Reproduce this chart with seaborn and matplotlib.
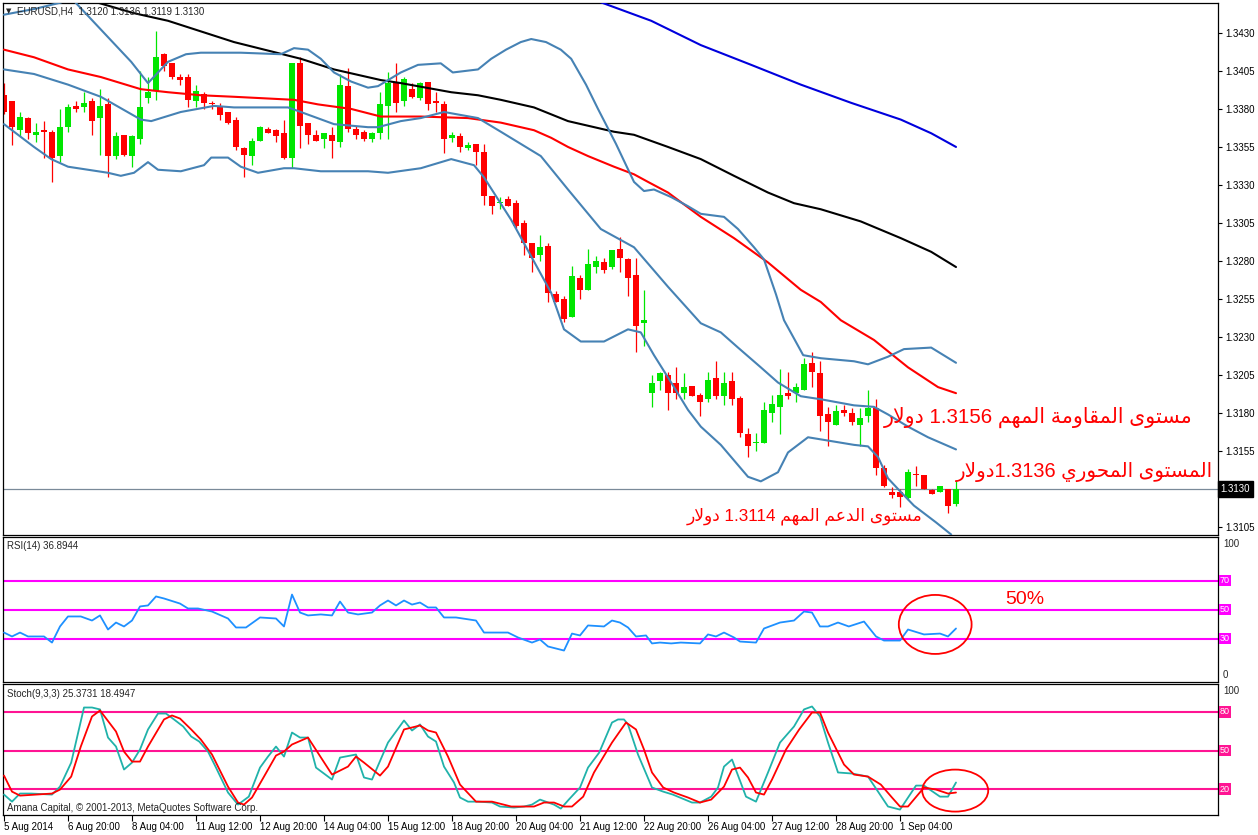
import re
import numpy as np
import pandas as pd
import matplotlib
matplotlib.use("Agg")
import matplotlib.pyplot as plt
from matplotlib.patches import Ellipse
from matplotlib.transforms import blended_transform_factory
import seaborn as sns

# ---------------- data ----------------
open_ = [1.3389, 1.3385, 1.3366, 1.3374, 1.3363, 1.3366, 1.3365, 1.3349, 1.3368, 1.3382,
         1.3381, 1.3385, 1.3374, 1.3383, 1.3349, 1.3363, 1.3349, 1.3360, 1.3387, 1.3392,
         1.3416, 1.3410, 1.3401, 1.3401, 1.3385, 1.3390, 1.3384, 1.3382, 1.3378, 1.3373,
         1.3354, 1.3349, 1.3359, 1.3367, 1.3366, 1.3364, 1.3348, 1.3410, 1.3371, 1.3363,
         1.3360, 1.3363, 1.3358, 1.3395, 1.3367, 1.3365, 1.3360, 1.3364, 1.3382, 1.3397,
         1.3385, 1.3393, 1.3387, 1.3398, 1.3385, 1.3383, 1.3361, 1.3362, 1.3354, 1.3357,
         1.3352, 1.3323, 1.3318, 1.3321, 1.3318, 1.3305, 1.3292, 1.3284, 1.3290, 1.3258,
         1.3255, 1.3243, 1.3269, 1.3261, 1.3276, 1.3279, 1.3276, 1.3288, 1.3281, 1.3271,
         1.3239, 1.3193, 1.3201, 1.3205, 1.3200, 1.3193, 1.3198, 1.3192, 1.3189, 1.3203,
         1.3191, 1.3201, 1.3190, 1.3166, 1.3160, 1.3160, 1.3180, 1.3184, 1.3193, 1.3193,
         1.3195, 1.3213, 1.3206, 1.3179, 1.3172, 1.3182, 1.3180, 1.3172, 1.3178, 1.3183,
         1.3144, 1.3128, 1.3128, 1.3124, 1.3140, 1.3139, 1.3129, 1.3128, 1.3130, 1.3120]
high = [1.3397, 1.3385, 1.3378, 1.3375, 1.3371, 1.3372, 1.3366, 1.3380, 1.3383, 1.3385,
        1.3391, 1.3387, 1.3393, 1.3387, 1.3365, 1.3363, 1.3363, 1.3405, 1.3401, 1.3431,
        1.3417, 1.3410, 1.3403, 1.3403, 1.3396, 1.3391, 1.3385, 1.3384, 1.3378, 1.3375,
        1.3355, 1.3361, 1.3369, 1.3368, 1.3367, 1.3373, 1.3410, 1.3414, 1.3371, 1.3366,
        1.3364, 1.3368, 1.3403, 1.3407, 1.3369, 1.3366, 1.3365, 1.3391, 1.3404, 1.3410,
        1.3401, 1.3397, 1.3398, 1.3398, 1.3391, 1.3385, 1.3365, 1.3364, 1.3358, 1.3357,
        1.3357, 1.3323, 1.3322, 1.3323, 1.3320, 1.3307, 1.3292, 1.3297, 1.3292, 1.3260,
        1.3257, 1.3277, 1.3271, 1.3288, 1.3283, 1.3282, 1.3287, 1.3296, 1.3282, 1.3282,
        1.3261, 1.3205, 1.3207, 1.3207, 1.3210, 1.3206, 1.3198, 1.3193, 1.3207, 1.3214,
        1.3207, 1.3207, 1.3191, 1.3170, 1.3167, 1.3187, 1.3192, 1.3209, 1.3207, 1.3200,
        1.3216, 1.3220, 1.3214, 1.3184, 1.3185, 1.3185, 1.3183, 1.3183, 1.3195, 1.3189,
        1.3146, 1.3131, 1.3130, 1.3143, 1.3145, 1.3139, 1.3130, 1.3132, 1.3130, 1.3136]
low = [1.3377, 1.3356, 1.3362, 1.3360, 1.3358, 1.3348, 1.3332, 1.3345, 1.3365, 1.3378,
       1.3378, 1.3363, 1.3350, 1.3335, 1.3347, 1.3349, 1.3342, 1.3357, 1.3384, 1.3386,
       1.3405, 1.3400, 1.3396, 1.3381, 1.3381, 1.3380, 1.3380, 1.3373, 1.3370, 1.3353,
       1.3335, 1.3343, 1.3359, 1.3364, 1.3358, 1.3347, 1.3341, 1.3354, 1.3357, 1.3359,
       1.3354, 1.3348, 1.3355, 1.3365, 1.3360, 1.3359, 1.3358, 1.3360, 1.3360, 1.3378,
       1.3382, 1.3387, 1.3386, 1.3379, 1.3378, 1.3351, 1.3358, 1.3352, 1.3353, 1.3343,
       1.3317, 1.3311, 1.3314, 1.3316, 1.3302, 1.3284, 1.3273, 1.3280, 1.3253, 1.3253,
       1.3240, 1.3243, 1.3255, 1.3261, 1.3272, 1.3272, 1.3275, 1.3273, 1.3257, 1.3220,
       1.3224, 1.3184, 1.3195, 1.3182, 1.3189, 1.3189, 1.3191, 1.3178, 1.3187, 1.3189,
       1.3185, 1.3185, 1.3164, 1.3151, 1.3155, 1.3160, 1.3174, 1.3166, 1.3189, 1.3187,
       1.3195, 1.3197, 1.3168, 1.3158, 1.3172, 1.3178, 1.3172, 1.3158, 1.3174, 1.3139,
       1.3131, 1.3124, 1.3118, 1.3123, 1.3132, 1.3130, 1.3127, 1.3128, 1.3114, 1.3119]
close = [1.3378, 1.3368, 1.3375, 1.3364, 1.3365, 1.3365, 1.3348, 1.3368, 1.3381, 1.3380,
         1.3384, 1.3372, 1.3382, 1.3349, 1.3362, 1.3350, 1.3362, 1.3381, 1.3391, 1.3414,
         1.3408, 1.3401, 1.3399, 1.3386, 1.3392, 1.3384, 1.3383, 1.3376, 1.3371, 1.3355,
         1.3350, 1.3359, 1.3368, 1.3364, 1.3362, 1.3348, 1.3410, 1.3369, 1.3363, 1.3359,
         1.3364, 1.3359, 1.3396, 1.3367, 1.3363, 1.3360, 1.3364, 1.3383, 1.3397, 1.3384,
         1.3400, 1.3388, 1.3397, 1.3383, 1.3384, 1.3360, 1.3363, 1.3355, 1.3356, 1.3352,
         1.3323, 1.3316, 1.3319, 1.3316, 1.3303, 1.3292, 1.3282, 1.3289, 1.3259, 1.3253,
         1.3242, 1.3270, 1.3261, 1.3278, 1.3280, 1.3274, 1.3287, 1.3282, 1.3269, 1.3237,
         1.3241, 1.3200, 1.3206, 1.3193, 1.3193, 1.3197, 1.3191, 1.3187, 1.3202, 1.3191,
         1.3200, 1.3189, 1.3167, 1.3158, 1.3161, 1.3182, 1.3186, 1.3192, 1.3191, 1.3197,
         1.3212, 1.3207, 1.3178, 1.3174, 1.3181, 1.3180, 1.3174, 1.3177, 1.3183, 1.3144,
         1.3132, 1.3126, 1.3125, 1.3141, 1.3139, 1.3130, 1.3127, 1.3132, 1.3119, 1.3130]

bb_up_x = [0, 4, 7.1, 8.4, 10.9, 13.4, 15.9, 18, 20.5, 22.75, 24.6, 29.6, 34.6, 36.25, 38, 39.6,
           41.25, 43.4, 45.5, 46.75, 49.6, 51.75, 54.6, 56.1, 59.25, 60.9, 62.75, 64.6, 65.9,
           67.75, 69.6, 70.9, 72.75, 74.25, 76.5, 78.75, 80, 81.25, 83.4, 85.5, 87.1, 90, 91.75,
           93.75, 95, 96.5, 97.5, 99.9, 102.1, 106.25, 108, 110.5, 112.5, 115.9, 119]
bb_up_y = [1.3442, 1.3446, 1.3450, 1.3453, 1.3439, 1.3425, 1.3411, 1.3397, 1.3411, 1.3416,
           1.3417, 1.3417, 1.3416, 1.3420, 1.3419, 1.3413, 1.3404, 1.3398, 1.3394, 1.3395,
           1.3404, 1.3409, 1.3410, 1.3404, 1.3406, 1.3413, 1.3419, 1.3424, 1.3426, 1.3424,
           1.3419, 1.3413, 1.3396, 1.3380, 1.3357, 1.3332, 1.3326, 1.3327, 1.3322, 1.3316,
           1.3311, 1.3309, 1.3301, 1.3289, 1.3281, 1.3258, 1.3241, 1.3218, 1.3216, 1.3214,
           1.3212, 1.3217, 1.3222, 1.3223, 1.3213]
bb_mid_x = [0, 3.75, 8, 12.1, 17.1, 18.4, 22.1, 26.25, 28.75, 35.5, 37.1, 41.25, 45.5, 46.75,
            49.6, 52.1, 55, 59.25, 62.1, 67.1, 70.5, 74.6, 78.75, 83, 87.1, 89.6, 91.75, 94.6,
            96.75, 99.6, 102.1, 106.25, 108.75, 110.5, 113, 115.5, 119]
bb_mid_y = [1.3406, 1.3403, 1.3396, 1.3388, 1.3373, 1.3372, 1.3378, 1.3382, 1.3381, 1.3381,
            1.3378, 1.3370, 1.3368, 1.3368, 1.3372, 1.3374, 1.3378, 1.3374, 1.3365, 1.3349,
            1.3327, 1.3301, 1.3289, 1.3263, 1.3239, 1.3233, 1.3223, 1.3210, 1.3200, 1.3191,
            1.3189, 1.3185, 1.3184, 1.3179, 1.3171, 1.3164, 1.3156]
bb_low_x = [0, 3.75, 5.9, 8, 13, 14.6, 16.25, 18, 19.25, 22.1, 25, 25.9, 28, 29.6, 31.75, 35,
            36.25, 39.6, 45.5, 48, 52.1, 55.9, 58.75, 60, 63.4, 68.4, 70, 72.1, 75, 78, 79.6,
            81.25, 83.4, 85.5, 87.1, 89.6, 93, 94.6, 96.75, 98, 100.5, 106.25, 108, 109.25,
            110.5, 112.1, 113.75, 116.5, 118.4]
bb_low_y = [1.3370, 1.3355, 1.3347, 1.3342, 1.3338, 1.3336, 1.3338, 1.3345, 1.3340, 1.3339,
            1.3343, 1.3348, 1.3348, 1.3342, 1.3338, 1.3341, 1.3341, 1.3339, 1.3339, 1.3338,
            1.3341, 1.3347, 1.3343, 1.3335, 1.3307, 1.3259, 1.3235, 1.3227, 1.3227, 1.3235,
            1.3233, 1.3218, 1.3200, 1.3182, 1.3171, 1.3159, 1.3138, 1.3135, 1.3141, 1.3154,
            1.3164, 1.3159, 1.3158, 1.3151, 1.3137, 1.3128, 1.3119, 1.3108, 1.3100]
ma_red_x = [0, 3.75, 8, 12.1, 17.1, 20.5, 24.6, 28.75, 36.25, 39.25, 43.4, 47.1, 52.1, 58, 62.1,
            66.25, 68.4, 70.5, 73, 76.25, 78.75, 80.5, 83, 87.1, 91.25, 95.5, 99.6, 102.1, 104.6,
            108.75, 113, 116.75, 119]
ma_red_y = [1.3419, 1.3414, 1.3406, 1.3401, 1.3393, 1.3391, 1.3389, 1.3388, 1.3386, 1.3383,
            1.3380, 1.3375, 1.3375, 1.3374, 1.3371, 1.3366, 1.3361, 1.3355, 1.3349, 1.3342,
            1.3337, 1.3332, 1.3325, 1.3309, 1.3295, 1.3279, 1.3261, 1.3253, 1.3241, 1.3228,
            1.3210, 1.3197, 1.3193]
ma_black_x = [8.4, 16.25, 20.5, 28.75, 37.1, 41.25, 47.1, 49.6, 55.9, 59.25, 62.1, 66.25, 70.5,
              76.25, 78.75, 83, 87.1, 91.25, 95.5, 98.75, 102.1, 107.1, 112.1, 115.9, 119]
ma_black_y = [1.3455, 1.3443, 1.3438, 1.3424, 1.3413, 1.3406, 1.3399, 1.3397, 1.3391, 1.3389,
              1.3386, 1.3381, 1.3372, 1.3365, 1.3363, 1.3355, 1.3347, 1.3336, 1.3325, 1.3318,
              1.3314, 1.3306, 1.3295, 1.3286, 1.3276]
ma_blue_x = [72.1, 80.9, 87.1, 93.4, 99.6, 105.9, 112.1, 115.9, 119]
ma_blue_y = [1.3455, 1.3438, 1.3422, 1.3409, 1.3396, 1.3384, 1.3373, 1.3364, 1.3355]

rsi_x = [0, 1, 2, 3, 5, 6, 7, 8, 9.6, 11, 12, 13, 14, 15, 16, 17, 18, 19, 20, 22, 23, 24.25, 26,
         28, 29, 30.25, 32, 34, 35, 36, 37, 38, 39.6, 41, 42, 43, 44.25, 46, 47, 48, 49, 50, 51,
         52, 53, 54, 55, 56.5, 59, 60, 62, 63, 64.25, 66, 67, 68, 70, 71, 72, 73, 75, 76, 77,
         78, 79, 80.25, 81, 82, 83.4, 84.6, 87, 88, 89, 90, 91.25, 92, 94, 95, 97, 98.75, 100,
         101, 102, 103, 104.25, 105.6, 107.5, 109, 110, 112, 113, 115, 117, 118, 119]
rsi_y = [34.1, 31.4, 34.1, 31.4, 31.4, 27.2, 38.3, 45.2, 45.2, 42.4, 45.9, 36.2, 41.0, 38.3,
         42.4, 52.1, 52.8, 59.0, 57.6, 54.1, 50.7, 50.7, 48.6, 43.8, 37.6, 37.6, 44.5, 43.8,
         38.3, 60.3, 47.9, 45.9, 46.6, 45.9, 55.5, 47.9, 46.6, 47.9, 52.8, 56.2, 52.8, 56.2,
         53.4, 54.8, 51.4, 51.4, 44.5, 44.5, 42.4, 34.1, 34.1, 34.1, 30.7, 27.2, 29.3, 24.5,
         21.7, 33.4, 32.1, 39.0, 38.3, 42.4, 41.0, 37.6, 31.4, 32.1, 26.6, 27.2, 26.6, 27.2,
         26.6, 32.8, 31.4, 34.1, 30.7, 27.9, 27.2, 36.9, 41.0, 42.4, 48.6, 47.9, 38.3, 38.3,
         41.0, 38.3, 41.7, 31.4, 28.6, 28.6, 36.2, 32.8, 33.4, 31.4, 36.9]

st_main_x = [0, 1, 2, 3.4, 6, 7, 8.4, 10, 11, 12, 13, 14, 15, 16, 17, 18, 19.25, 20.25, 21.25,
             22.4, 23.4, 24.4, 25.5, 26.5, 28, 29.25, 30.6, 32, 33, 34, 35, 36, 37, 38, 39, 41,
             42, 44, 45, 46, 48, 50, 51, 52, 53, 54, 55, 56.25, 57, 58, 59.25, 61, 62, 63.75, 65,
             66, 67, 68.75, 69.6, 70.6, 72, 73, 74.4, 76, 76.75, 77.5, 78, 79.25, 81, 82.4, 83.6,
             86, 87, 88.4, 89.25, 90, 91, 92.75, 94, 95.5, 97, 98.75, 100, 101, 102, 103, 104.25,
             106, 108, 110.5, 112, 114, 115, 117, 118, 119]
st_main_y = [15.7, 10.2, 16.5, 16.5, 15.7, 21.9, 40.6, 83.5, 83.5, 82.0, 60.1, 53.1, 35.2, 40.6,
             50.8, 66.4, 78.8, 78.8, 74.2, 68.7, 60.9, 57.0, 49.2, 36.7, 17.3, 7.9, 14.1, 36.7,
             45.3, 53.1, 45.3, 64.0, 60.1, 60.1, 36.7, 27.4, 44.5, 46.9, 29.0, 27.4, 56.2, 73.4,
             65.6, 70.3, 60.9, 57.0, 37.5, 25.1, 13.4, 10.2, 10.2, 9.5, 6.4, 5.6, 6.4, 7.9, 11.8,
             7.9, 4.8, 11.8, 21.2, 36.7, 48.4, 71.8, 74.2, 74.2, 70.3, 46.9, 21.2, 18.0, 15.7, 9.5,
             9.5, 14.1, 21.2, 37.5, 43.0, 14.1, 10.2, 32.9, 56.2, 68.7, 82.0, 84.3, 76.5, 56.2,
             32.9, 32.1, 29.7, 6.4, 4.0, 22.7, 22.7, 14.1, 14.1, 25.1]
st_sig_x = [0, 1, 2, 6, 7, 8.4, 9.6, 11, 12, 14, 15, 16, 17, 18, 20, 21, 22, 23.4, 24.6, 26, 28,
            29.25, 30, 31, 32.5, 34, 35, 36, 38, 41, 43, 44, 45, 47, 48, 50, 52, 53, 54, 55.5, 57,
            59, 61, 63.4, 66.25, 67.5, 68.75, 70, 71, 72.4, 73.75, 76, 77.75, 79, 80, 81, 82.4,
            83.75, 85.5, 87, 88.4, 90, 91, 92, 93, 94, 95, 96, 97.75, 99.4, 101, 102, 103, 105,
            106.25, 108, 109.6, 111, 112, 113, 115, 116.5, 118, 119]
st_sig_y = [30.5, 18.0, 14.9, 16.5, 19.6, 29.7, 53.1, 76.5, 81.2, 64.8, 49.2, 41.4, 41.4, 53.1,
            74.2, 77.3, 74.9, 66.4, 58.6, 46.9, 21.9, 9.5, 7.9, 13.4, 29.7, 46.1, 49.2, 54.7, 60.1,
            31.3, 37.5, 45.3, 40.6, 30.5, 37.5, 66.4, 69.5, 65.6, 64.0, 45.3, 23.5, 10.2, 10.2,
            6.4, 6.4, 9.5, 9.5, 6.4, 6.4, 14.1, 32.9, 56.2, 71.8, 66.4, 50.8, 32.9, 21.2, 17.3,
            13.4, 9.5, 11.8, 21.9, 35.2, 36.7, 29.0, 17.3, 15.7, 27.4, 50.8, 66.4, 79.6, 79.6,
            64.0, 39.1, 31.3, 29.7, 23.5, 13.4, 6.4, 6.4, 21.2, 19.6, 16.5, 17.3]

price_ticks = [1.3105, 1.3130, 1.3155, 1.3180, 1.3205, 1.3230, 1.3255, 1.3280, 1.3305,
               1.3330, 1.3355, 1.3380, 1.3405, 1.3430]
last_price = 1.3130
time_tick_bars = [0, 8, 16, 24, 32, 40, 48, 56, 64, 72, 80, 88, 96, 104, 112]
time_tick_labels = ["5 Aug 2014", "6 Aug 20:00", "8 Aug 04:00", "11 Aug 12:00", "12 Aug 20:00",
                    "14 Aug 04:00", "15 Aug 12:00", "18 Aug 20:00", "20 Aug 04:00",
                    "21 Aug 12:00", "22 Aug 20:00", "26 Aug 04:00", "27 Aug 12:00",
                    "28 Aug 20:00", "1 Sep 04:00"]
rsi_levels = [70, 50, 30]
stoch_levels = [80, 50, 20]
header_text = "EURUSD,H4  1.3120 1.3136 1.3119 1.3130"
rsi_title = "RSI(14) 36.8944"
stoch_title = "Stoch(9,3,3) 25.3731 18.4947"
copyright_text = "Amana Capital, © 2001-2013, MetaQuotes Software Corp."
note_resistance = "مستوى المقاومة المهم 1.3156 دولار"
note_pivot = "المستوى المحوري 1.3136دولار"
note_support = "مستوى الدعم المهم 1.3114 دولار"
note_rsi = "50%"

# ---------------- minimal Arabic shaping (matplotlib has no RTL layout) ----------------
AR_FORMS = {
    'ا': ('\uFE8D', '\uFE8E', None, None),
    'د': ('\uFEA9', '\uFEAA', None, None),
    'ر': ('\uFEAD', '\uFEAE', None, None),
    'و': ('\uFEED', '\uFEEE', None, None),
    'ة': ('\uFE93', '\uFE94', None, None),
    'ى': ('\uFEEF', '\uFEF0', None, None),
    'ت': ('\uFE95', '\uFE96', '\uFE97', '\uFE98'),
    'ح': ('\uFEA1', '\uFEA2', '\uFEA3', '\uFEA4'),
    'س': ('\uFEB1', '\uFEB2', '\uFEB3', '\uFEB4'),
    'ع': ('\uFEC9', '\uFECA', '\uFECB', '\uFECC'),
    'ق': ('\uFED5', '\uFED6', '\uFED7', '\uFED8'),
    'ل': ('\uFEDD', '\uFEDE', '\uFEDF', '\uFEE0'),
    'م': ('\uFEE1', '\uFEE2', '\uFEE3', '\uFEE4'),
    'ه': ('\uFEE9', '\uFEEA', '\uFEEB', '\uFEEC'),
    'ي': ('\uFEF1', '\uFEF2', '\uFEF3', '\uFEF4'),
}
LAMALEF = ('\uFEFB', '\uFEFC')


def shape(run):
    chars, i = [], 0
    while i < len(run):
        if run[i] == 'ل' and i + 1 < len(run) and run[i + 1] == 'ا':
            chars.append('LA'); i += 2
        else:
            chars.append(run[i]); i += 1
    out = []
    for k, ch in enumerate(chars):
        prev = chars[k - 1] if k > 0 else None
        nxt = chars[k + 1] if k + 1 < len(chars) else None
        joins_prev = prev in AR_FORMS and AR_FORMS[prev][2] is not None
        if ch == 'LA':
            out.append(LAMALEF[1] if joins_prev else LAMALEF[0]); continue
        if ch not in AR_FORMS:
            out.append(ch); continue
        iso, fin, ini, med = AR_FORMS[ch]
        joins_next = ini is not None and (nxt in AR_FORMS or nxt == 'LA')
        if joins_prev and joins_next:
            out.append(med)
        elif joins_prev:
            out.append(fin)
        elif joins_next:
            out.append(ini)
        else:
            out.append(iso)
    return ''.join(out)


def visual(text):
    runs = re.findall(r'[0-9.%]+|[^0-9.%]+', text)
    parts = []
    for r in reversed(runs):
        if re.fullmatch(r'[0-9.%]+', r):
            parts.append(r)
        else:
            parts.append(shape(r)[::-1])
    return ''.join(parts)


# ---------------- figure ----------------
sns.set_theme(style="white")
plt.rcParams['font.family'] = ['Liberation Sans', 'DejaVu Sans']
plt.rcParams['axes.linewidth'] = 0.8

W, H = 1258, 835
fig = plt.figure(figsize=(W / 100, H / 100), dpi=100)
fig.patch.set_facecolor('white')


def rect(x0, y0, x1, y1):
    return [x0 / W, 1 - y1 / H, (x1 - x0) / W, (y1 - y0) / H]


def fpos(x, y):
    return x / W, 1 - y / H


ax = fig.add_axes(rect(3, 3, 1218, 535))
ax_rsi = fig.add_axes(rect(3, 537, 1218, 682))
ax_st = fig.add_axes(rect(3, 684, 1218, 815))

XL = (-0.125, 151.75)
for a in (ax, ax_rsi, ax_st):
    a.set_xlim(*XL)
    a.set_facecolor('white')
    for s in a.spines.values():
        s.set_color('black')
        s.set_linewidth(0.9)
        s.set_visible(True)

# ---- candles ----
idx = np.arange(len(close))
o = np.array(open_); c = np.array(close)
bull = c >= o
cols = np.where(bull, '#00e600', '#ff0000')
ax.vlines(idx, low, high, colors=cols, linewidth=0.9, zorder=2)
body_bottom = np.minimum(o, c)
body_h = np.maximum(np.abs(c - o), 0.00005)
ax.bar(idx, body_h, bottom=body_bottom, width=0.66, color=cols, linewidth=0, zorder=2)

# last price line
ax.axhline(last_price, color='#7a8a99', linewidth=0.9, zorder=1)

# ---- indicator lines via seaborn ----
def line(a, xs, ys, color, lw):
    sns.lineplot(x=xs, y=ys, ax=a, color=color, linewidth=lw, zorder=3, sort=False)

line(ax, ma_blue_x, ma_blue_y, '#0000dd', 1.5)
line(ax, ma_black_x, ma_black_y, 'black', 1.5)
line(ax, ma_red_x, ma_red_y, '#ff0000', 1.5)
line(ax, bb_up_x, bb_up_y, '#4682b4', 1.5)
line(ax, bb_mid_x, bb_mid_y, '#4682b4', 1.5)
line(ax, bb_low_x, bb_low_y, '#4682b4', 1.5)

ax.set_ylim(1.30997, 1.34497)
ax.set_xlim(*XL)
ax.set_xlabel(''); ax.set_ylabel('')
ax.set_xticks([])
ax.yaxis.tick_right()
ax.set_yticks(price_ticks)
ax.set_yticklabels(["" if abs(p - last_price) < 1e-6 else f"{p:.4f}" for p in price_ticks])
ax.tick_params(axis='y', right=True, left=False, length=3, width=0.8, direction='out',
               labelsize=7, pad=2, colors='black')

# last price box
ax.text(1.0022, last_price, f"{last_price:.4f}", transform=blended_transform_factory(ax.transAxes, ax.transData),
        color='white', fontsize=7, va='center', ha='left',
        bbox=dict(boxstyle='square,pad=0.32', fc='black', ec='black'), zorder=10, clip_on=False)

# ---- RSI ----
for lv in rsi_levels:
    ax_rsi.axhline(lv, color='#ff00ff', linewidth=1.5, zorder=2)
line(ax_rsi, rsi_x, rsi_y, '#1e90ff', 1.3)
ax_rsi.set_ylim(0, 100)
ax_rsi.set_xlim(*XL)
ax_rsi.set_xticks([]); ax_rsi.set_yticks([])
ax_rsi.set_xlabel(''); ax_rsi.set_ylabel('')
tr_rsi = blended_transform_factory(ax_rsi.transAxes, ax_rsi.transData)
for lv in rsi_levels:
    ax_rsi.text(1.0016, lv, str(lv), transform=tr_rsi, color='white', fontsize=6.5, va='center',
                ha='left', bbox=dict(boxstyle='square,pad=0.12', fc='#ff00ff', ec='none'), clip_on=False)
ax_rsi.text(1.004, 95, "100", transform=tr_rsi, fontsize=7, va='center', ha='left', clip_on=False)
ax_rsi.text(1.004, 5, "0", transform=tr_rsi, fontsize=7, va='center', ha='left', clip_on=False)
ax_rsi.add_patch(Ellipse((116.4, 39.7), 9.1, 40.7, fill=False, edgecolor='#ff0000', linewidth=1.3, zorder=5))

# ---- Stochastic ----
for lv in stoch_levels:
    ax_st.axhline(lv, color='#ff1493', linewidth=1.5, zorder=2)
line(ax_st, st_main_x, st_main_y, '#20b2aa', 1.3)
line(ax_st, st_sig_x, st_sig_y, '#ff0000', 1.3)
ax_st.set_ylim(-0.2, 101.8)
ax_st.set_xlim(*XL)
ax_st.set_yticks([])
ax_st.set_xlabel(''); ax_st.set_ylabel('')
tr_st = blended_transform_factory(ax_st.transAxes, ax_st.transData)
for lv in stoch_levels:
    ax_st.text(1.0016, lv, str(lv), transform=tr_st, color='white', fontsize=6.5, va='center',
               ha='left', bbox=dict(boxstyle='square,pad=0.12', fc='#ff1493', ec='none'), clip_on=False)
ax_st.text(1.004, 96, "100", transform=tr_st, fontsize=7, va='center', ha='left', clip_on=False)
ax_st.add_patch(Ellipse((118.9, 18.8), 8.25, 32.7, fill=False, edgecolor='#ff0000', linewidth=1.3, zorder=5))

ax_st.set_xticks(time_tick_bars)
ax_st.set_xticklabels(time_tick_labels, ha='left')
ax_st.tick_params(axis='x', bottom=True, length=4, width=0.8, direction='out', labelsize=7,
                  pad=1, colors='black')

# ---- texts ----
fig.text(*fpos(6, 11), '▼', fontsize=5, va='center', ha='left', family=['DejaVu Sans'])
fig.text(*fpos(17, 11), header_text, fontsize=7, va='center', ha='left')
fig.text(*fpos(7, 546), rsi_title, fontsize=7, va='center', ha='left')
fig.text(*fpos(7, 694), stoch_title, fontsize=7, va='center', ha='left')
fig.text(*fpos(7, 808), copyright_text, fontsize=7, va='center', ha='left')

ar_fam = ['Liberation Sans', 'DejaVu Sans']
fig.text(*fpos(1193, 417), visual(note_resistance), fontsize=14.8, color='#ff0000', va='center',
         ha='right', family=ar_fam)
fig.text(*fpos(1213, 472), visual(note_pivot), fontsize=14.4, color='#ff0000', va='center',
         ha='right', family=ar_fam)
fig.text(*fpos(922, 516), visual(note_support), fontsize=12.3, color='#ff0000', va='center',
         ha='right', family=ar_fam)
fig.text(*fpos(1005, 599), note_rsi, fontsize=14, color='#ff0000', va='center', ha='left')

fig.savefig('out.png', dpi=100, facecolor='white')
